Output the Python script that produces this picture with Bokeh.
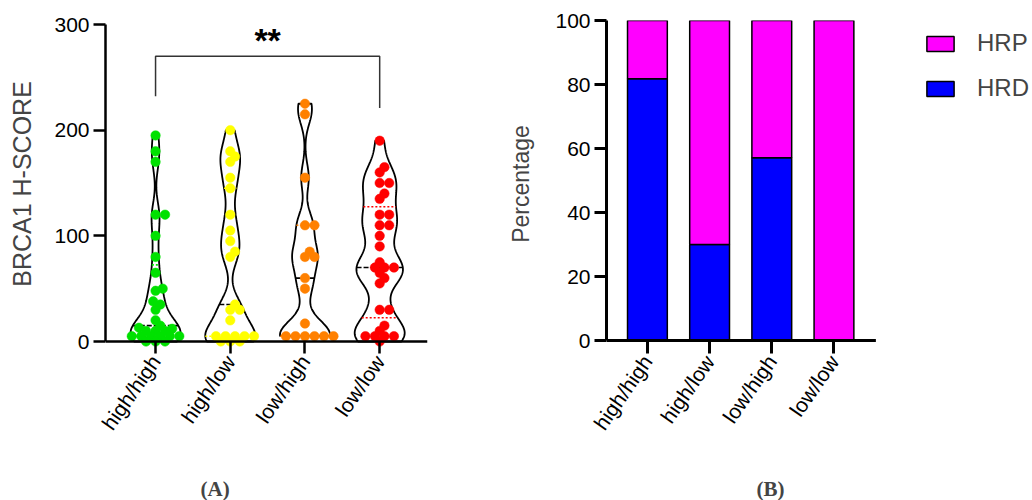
import numpy as np
from bokeh.plotting import figure
from bokeh.models import (ColumnDataSource, FixedTicker, Legend, LegendItem, Range1d,
                          Span, Title)
from bokeh.layouts import row
from bokeh.embed import file_html
from bokeh.resources import INLINE
from bokeh.core.properties import value

# ---------------- data ----------------
groups = ["high/high", "high/low", "low/high", "low/low"]
group_colors = ["#00E100", "#FFFF00", "#FF8000", "#FF0000"]

hh_scores = [195, 180, 170, 120, 120, 100, 80, 65, 50, 48, 38, 35, 30, 20, 15,
             13, 12, 10, 10, 10, 5, 5, 5, 5, 5, 5, 0, 0, 0]
hl_scores = [200, 180, 175, 170, 155, 145, 120, 105, 95, 85, 80, 35, 30, 30, 20,
             5, 5, 5, 5, 5, 0, 0, 0]
lh_scores = [225, 215, 155, 110, 110, 85, 80, 80, 60, 50, 17, 5, 5, 5, 5, 5, 5]
ll_scores = [190, 165, 160, 150, 150, 140, 135, 120, 120, 110, 110, 100, 90, 75,
             70, 70, 70, 65, 60, 55, 30, 30, 15, 10, 5, 5, 5, 5, 0]
all_scores = [hh_scores, hl_scores, lh_scores, ll_scores]

sig_pair = (0, 3)
sig_label = "**"
bracket_top = 270
bracket_feet = [232, 221]

hrd_pct = [81.8, 30.0, 57.1, 0.0]
hrp_pct = [18.2, 70.0, 42.9, 100.0]
bar_colors = {"HRD": "#0000FF", "HRP": "#FF00FF"}

FONT = "Liberation Sans"
ANGLE = 0.96
FRAME_TOP, FRAME_BOTTOM, FIG_H = 20, 347, 500
GAP_STANDOFF = 27          # extra room between tick labels and the (A)/(B) captions

# ---------------- panel A ----------------
xA = (-0.67, 3.64)
kA = 317.0 / 300.0                     # px per unit (0 at 341, 300 at 24)
yA = (-(FRAME_BOTTOM - 341) / kA, 300 + (24 - FRAME_TOP) / kA)
xpx = 322.0 / (xA[1] - xA[0])

pA = figure(width=505, height=FIG_H, x_range=Range1d(*xA), y_range=Range1d(*yA),
            output_backend="svg", toolbar_location=None,
            min_border_left=105, min_border_right=78, min_border_top=FRAME_TOP,
            min_border_bottom=FIG_H - FRAME_BOTTOM)


def kde(vals, grid, bw):
    v = np.asarray(vals, float)
    return np.exp(-0.5 * ((grid[:, None] - v[None, :]) / bw) ** 2).sum(axis=1)


def swarm(vals, d, ypx):
    vals = np.asarray(vals, float)
    order = np.argsort(vals, kind="stable")
    placed = []
    offs = np.zeros(len(vals))
    step = d / 4.0
    cands = [0.0]
    for k in range(1, 80):
        cands += [k * step, -k * step]
    for i in order:
        y = vals[i] * ypx
        for c in cands:
            ok = True
            for px, py, pv in placed:
                lim = 0.88 * d if pv == vals[i] else 0.62 * d
                if (c - px) ** 2 + (y - py) ** 2 < lim ** 2:
                    ok = False
                    break
            if ok:
                break
        placed.append((c, y, vals[i]))
        offs[i] = c
    return offs / xpx


half_w = 25.0 / xpx
BW = 13.0
dot = 9.5

for gi, (vals, col) in enumerate(zip(all_scores, group_colors)):
    v = np.asarray(vals, float)
    grid = np.linspace(v.min(), v.max(), 300)
    dens = kde(v, grid, BW)
    w = dens / dens.max() * half_w
    xs = np.concatenate([gi + w, (gi - w)[::-1]])
    ys = np.concatenate([grid, grid[::-1]])
    pA.patch(xs, ys, fill_color="white", fill_alpha=0, line_color="black", line_width=1.8)

    q1, med, q3 = np.percentile(v, [25, 50, 75], method="weibull")
    for q, c, dash in [(q1, col, "2 2"), (q3, col, "2 2"), (med, "black", "5 2")]:
        wq = np.interp(q, grid, w)
        pA.line([gi - wq, gi + wq], [q, q], line_color=c, line_width=1.6, line_dash=dash)

    offs = swarm(v, dot, kA)
    src = ColumnDataSource(dict(x=gi + offs, y=v))
    pA.scatter("x", "y", source=src, size=dot, fill_color=col, line_color=col, line_width=0.5)

# significance bracket
x0, x1 = sig_pair
pA.line([x0, x0, x1, x1], [bracket_feet[0], bracket_top, bracket_top, bracket_feet[1]],
        line_color="#333333", line_width=1.5)
pA.text(x=[(x0 + x1) / 2], y=[bracket_top + 15], text=[sig_label], text_align="center",
        text_baseline="alphabetic", text_font=value(FONT), text_font_size="34px",
        text_font_style="bold", text_color="black")

pA.xaxis.ticker = FixedTicker(ticks=list(range(len(groups))))
pA.xaxis.major_label_overrides = {i: g for i, g in enumerate(groups)}
pA.xaxis.axis_line_color = None
pA.xaxis.major_tick_in = 6
pA.xaxis.major_tick_out = 6
pA.yaxis.ticker = FixedTicker(ticks=[0, 100, 200, 300])
pA.yaxis.bounds = (0, 300)
pA.yaxis.axis_label = "BRCA1 H-SCORE"
pA.yaxis.axis_label_text_font_size = "25px"
pA.yaxis.axis_label_standoff = 15
pA.add_layout(Span(location=0, dimension="width", line_color="black", line_width=2.5))
pA.add_layout(Title(text="(A)", align="left", offset=95, standoff=0,
                    text_font="Liberation Serif", text_font_size="21px",
                    text_font_style="bold"), "below")

# ---------------- panel B ----------------
kB = 320.0 / 100.0                     # 0 at 340, 100 at 20
bar_px = 62.33
xB0, xB1 = -0.658, 3.674
xB = (xB0, xB0 + (1032 - 605) / bar_px)
yB = (-(FRAME_BOTTOM - 340) / kB, 100 + (20 - FRAME_TOP) / kB)
pB = figure(width=527, height=FIG_H, x_range=Range1d(*xB), y_range=Range1d(*yB),
            output_backend="svg", toolbar_location=None,
            min_border_left=100, min_border_right=0, min_border_top=FRAME_TOP,
            min_border_bottom=FIG_H - FRAME_BOTTOM)
srcB = ColumnDataSource(dict(x=list(range(len(groups))), HRD=hrd_pct, HRP=hrp_pct))
rs = pB.vbar_stack(["HRD", "HRP"], x="x", width=0.64, source=srcB,
                   fill_color=[bar_colors["HRD"], bar_colors["HRP"]],
                   line_color="black", line_width=1.5)
# x-axis baseline at 0, limited to the bar area
pB.line([xB0, xB1], [0, 0], line_color="black", line_width=3)
pB.xaxis.ticker = FixedTicker(ticks=list(range(len(groups))))
pB.xaxis.major_label_overrides = {i: g for i, g in enumerate(groups)}
pB.xaxis.axis_line_color = None
pB.xaxis.major_tick_in = 7
pB.xaxis.major_tick_out = 6
pB.yaxis.ticker = FixedTicker(ticks=[0, 20, 40, 60, 80, 100])
pB.yaxis.bounds = (0, 100)
pB.yaxis.axis_label = "Percentage"
pB.yaxis.axis_label_text_font_size = "23px"
pB.yaxis.axis_label_standoff = 18
pB.add_layout(Title(text="(B)", align="left", offset=150, standoff=0,
                    text_font="Liberation Serif", text_font_size="21px",
                    text_font_style="bold"), "below")

legend = Legend(items=[LegendItem(label="HRP", renderers=[rs[1]]),
                       LegendItem(label="HRD", renderers=[rs[0]])],
                location=(317, 245), margin=0, padding=0, spacing=17,
                glyph_width=34, glyph_height=19, label_height=28, label_standoff=20,
                label_text_font=FONT, label_text_font_size="24px",
                background_fill_alpha=0, border_line_alpha=0)
pB.add_layout(legend)

# ---------------- common styling ----------------
for p, lw in [(pA, 2.5), (pB, 3)]:
    p.outline_line_color = None
    p.xgrid.visible = False
    p.ygrid.visible = False
    p.background_fill_color = None
    p.border_fill_color = None
    for ax in [p.xaxis[0], p.yaxis[0]]:
        ax.axis_line_width = lw
        ax.major_tick_line_width = lw
        ax.major_tick_line_color = "black"
        ax.minor_tick_line_color = None
        ax.major_label_text_font = FONT
        ax.major_label_text_font_size = "21px"
        ax.major_label_text_color = "black"
    p.yaxis.axis_line_color = "black"
    p.yaxis.major_tick_out = 12
    p.yaxis.major_tick_in = 0
    p.yaxis.major_label_standoff = 4
    p.yaxis.axis_label_text_font = FONT
    p.yaxis.axis_label_text_font_style = "normal"
    p.xaxis.major_label_orientation = ANGLE
    p.xaxis.major_label_standoff = 4
    # invisible spacer label pushes the panel caption down
    p.xaxis.axis_label = "\u00a0"
    p.xaxis.axis_label_text_font_size = "1px"
    p.xaxis.axis_label_standoff = GAP_STANDOFF

layout = row(pA, pB)
open("out.html", "w").write(file_html(layout, INLINE))
